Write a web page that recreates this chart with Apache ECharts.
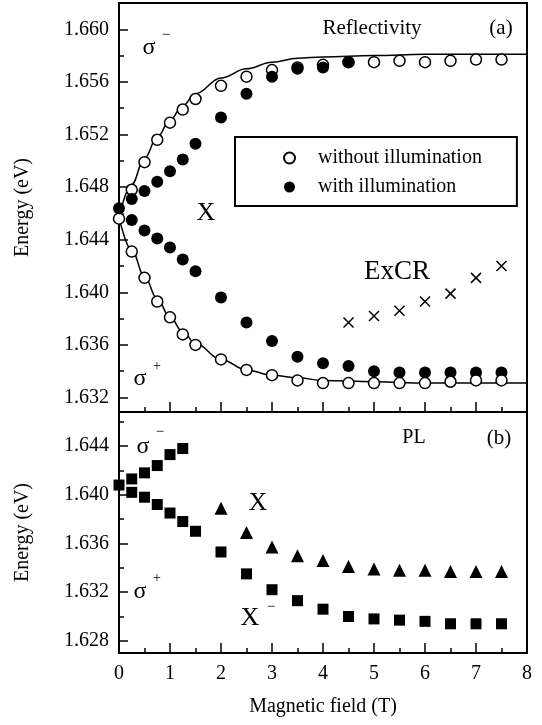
<!DOCTYPE html>
<html>
<head>
<meta charset="utf-8">
<script src="https://cdn.jsdelivr.net/npm/echarts@6/dist/echarts.min.js"></script>
<style>
  html, body { margin: 0; padding: 0; background: #fff; }
  #chart { width: 542px; height: 725px; }
</style>
</head>
<body>
<div id="chart"></div>
<script>
// ---- (a) Reflectivity: magnetic field (T) and energies (eV) ----
const reflWithoutMinusB = [0, 0.25, 0.5, 0.75, 1.0, 1.25, 1.5, 2.0, 2.5, 3.0, 3.5, 4.0, 4.5, 5.0, 5.5, 6.0, 6.5, 7.0, 7.5];
const reflWithoutMinusE = [1.6456, 1.6478, 1.6499, 1.6516, 1.6529, 1.6539, 1.6547, 1.6557, 1.6564, 1.6569, 1.6571, 1.6573, 1.6575, 1.6575, 1.6576, 1.6575, 1.6576, 1.6577, 1.6577];

const reflWithoutPlusB = [0.25, 0.5, 0.75, 1.0, 1.25, 1.5, 2.0, 2.5, 3.0, 3.5, 4.0, 4.5, 5.0, 5.5, 6.0, 6.5, 7.0, 7.5];
const reflWithoutPlusE = [1.6431, 1.6411, 1.6393, 1.6381, 1.6368, 1.6360, 1.6349, 1.6341, 1.6337, 1.6333, 1.6331, 1.6331, 1.6331, 1.6331, 1.6331, 1.6332, 1.6333, 1.6333];

const reflWithMinusB = [0, 0.25, 0.5, 0.75, 1.0, 1.25, 1.5, 2.0, 2.5, 3.0, 3.5, 4.0, 4.5];
const reflWithMinusE = [1.6464, 1.6471, 1.6477, 1.6484, 1.6492, 1.6501, 1.6513, 1.6533, 1.6551, 1.6564, 1.6570, 1.6571, 1.6575];

const reflWithPlusB = [0.25, 0.5, 0.75, 1.0, 1.25, 1.5, 2.0, 2.5, 3.0, 3.5, 4.0, 4.5, 5.0, 5.5, 6.0, 6.5, 7.0, 7.5];
const reflWithPlusE = [1.6455, 1.6447, 1.6441, 1.6434, 1.6425, 1.6416, 1.6396, 1.6377, 1.6363, 1.6351, 1.6346, 1.6344, 1.6340, 1.6339, 1.6339, 1.6339, 1.6339, 1.6339];

const excrB = [4.5, 5.0, 5.5, 6.0, 6.5, 7.0, 7.5];
const excrE = [1.6377, 1.6382, 1.6386, 1.6393, 1.6399, 1.6411, 1.6420];

// fitted Zeeman branches
const fitB = [0, 0.25, 0.5, 0.75, 1.0, 1.25, 1.5, 2.0, 2.5, 3.0, 3.5, 4.0, 5.0, 6.0, 7.0, 8.0];
const fitMinusE = [1.6457, 1.6482, 1.6502, 1.6518, 1.6531, 1.6542, 1.6551, 1.6563, 1.6570, 1.6575, 1.6578, 1.6579, 1.6580, 1.6581, 1.6581, 1.6581];
const fitPlusE = [1.6457, 1.6432, 1.6412, 1.6395, 1.6381, 1.6370, 1.6361, 1.6349, 1.6341, 1.6337, 1.6335, 1.6333, 1.6332, 1.6331, 1.6331, 1.6331];

// ---- (b) PL ----
const plMinusB = [0, 0.25, 0.5, 0.75, 1.0, 1.25];
const plMinusE = [1.6408, 1.6413, 1.6418, 1.6424, 1.6433, 1.6438];

const plTrionB = [0.25, 0.5, 0.75, 1.0, 1.25, 1.5, 2.0, 2.5, 3.0, 3.5, 4.0, 4.5, 5.0, 5.5, 6.0, 6.5, 7.0, 7.5];
const plTrionE = [1.6402, 1.6398, 1.6392, 1.6385, 1.6378, 1.6370, 1.6353, 1.6335, 1.6322, 1.6313, 1.6306, 1.6300, 1.6298, 1.6297, 1.6296, 1.6294, 1.6294, 1.6294];

const plExcitonB = [2.0, 2.5, 3.0, 3.5, 4.0, 4.5, 5.0, 5.5, 6.0, 6.5, 7.0, 7.5];
const plExcitonE = [1.6389, 1.6369, 1.6357, 1.6350, 1.6346, 1.6341, 1.6339, 1.6338, 1.6338, 1.6337, 1.6337, 1.6337];

// ---- axis ticks ----
const topMajor = [1.632, 1.636, 1.640, 1.644, 1.648, 1.652, 1.656, 1.660];
const topMinor = [1.634, 1.638, 1.642, 1.646, 1.650, 1.654, 1.658];
const botMajor = [1.628, 1.632, 1.636, 1.640, 1.644];
const botMinor = [1.630, 1.634, 1.638, 1.642, 1.646];

const legendNames = ['without illumination', 'with illumination'];

const FONT = '"Liberation Serif", "Times New Roman", serif';
const pairs = (xs, ys) => xs.map((x, i) => [x, ys[i]]);

const chart = echarts.init(document.getElementById('chart'), null, { renderer: 'canvas' });

function xAxisOf(gridIndex, showLabels) {
  return {
    type: 'value', gridIndex, min: 0, max: 8, interval: 1, position: 'bottom',
    axisLine: { show: false },
    splitLine: { show: false },
    axisTick: { show: true, inside: true, length: 10, lineStyle: { color: '#000', width: 1.5 } },
    minorTick: { show: true, splitNumber: 2, length: 5, lineStyle: { color: '#000', width: 1.5 } },
    axisLabel: { show: showLabels, color: '#000', fontSize: 20, fontFamily: FONT, margin: 11 },
    name: showLabels ? 'Magnetic field (T)' : '',
    nameLocation: 'middle', nameGap: 44,
    nameTextStyle: { color: '#000', fontSize: 20, fontFamily: FONT }
  };
}

function yAxesOf(gridIndex, min, max, major, minor) {
  return [{
    type: 'value', gridIndex, min, max, position: 'left',
    axisLine: { show: false },
    splitLine: { show: false },
    axisTick: { show: true, inside: true, length: 9, customValues: major, lineStyle: { color: '#000', width: 1.5 } },
    axisLabel: { color: '#000', fontSize: 20, fontFamily: FONT, margin: 10, customValues: major,
                 formatter: v => v.toFixed(3) },
    name: 'Energy (eV)', nameLocation: 'middle', nameGap: 86,
    nameTextStyle: { color: '#000', fontSize: 20, fontFamily: FONT }
  }, {
    type: 'value', gridIndex, min, max, position: 'left', offset: 0,
    axisLine: { show: false },
    splitLine: { show: false },
    axisTick: { show: true, inside: true, length: 5, customValues: minor, lineStyle: { color: '#000', width: 1.5 } },
    axisLabel: { show: false }
  }];
}

const openStyle = { color: '#fff', borderColor: '#000', borderWidth: 1.5, opacity: 1 };
const fillStyle = { color: '#000', opacity: 1 };

function textEl(text, x, y, size) {
  return { type: 'text', x, y, z: 100,
    style: { text, fill: '#000', font: size + 'px ' + FONT, align: 'center', verticalAlign: 'middle' } };
}

chart.setOption({
  animation: false,
  backgroundColor: '#fff',
  grid: [
    { left: 119, top: 3, width: 408, height: 409, show: true, borderColor: '#000', borderWidth: 2, backgroundColor: 'transparent' },
    { left: 119, top: 412, width: 408, height: 241, show: true, borderColor: '#000', borderWidth: 2, backgroundColor: 'transparent' }
  ],
  xAxis: [xAxisOf(0, false), xAxisOf(1, true)],
  yAxis: [
    ...yAxesOf(0, 1.6309, 1.6620, topMajor, topMinor),
    ...yAxesOf(1, 1.6270, 1.6468, botMajor, botMinor)
  ],
  legend: {
    data: legendNames,
    orient: 'vertical', left: 235, top: 137,
    borderColor: '#000', borderWidth: 2, borderRadius: 0,
    padding: [11, 35, 9, 48], itemGap: 9,
    itemWidth: 11, itemHeight: 11,
    selectedMode: false,
    textStyle: { color: '#000', fontSize: 20, fontFamily: FONT, padding: [0, 0, 0, 18] }
  },
  series: [
    { name: 'fit-minus', type: 'line', xAxisIndex: 0, yAxisIndex: 0, data: pairs(fitB, fitMinusE),
      smooth: 0.4, smoothMonotone: 'x', showSymbol: false, symbol: 'none', silent: true,
      lineStyle: { color: '#000', width: 1.5 }, z: 2 },
    { name: 'fit-plus', type: 'line', xAxisIndex: 0, yAxisIndex: 0, data: pairs(fitB, fitPlusE),
      smooth: 0.4, smoothMonotone: 'x', showSymbol: false, symbol: 'none', silent: true,
      lineStyle: { color: '#000', width: 1.5 }, z: 2 },
    { name: 'without illumination', type: 'scatter', xAxisIndex: 0, yAxisIndex: 0,
      data: pairs(reflWithoutMinusB, reflWithoutMinusE), symbol: 'circle', symbolSize: 11, itemStyle: openStyle, z: 3 },
    { name: 'with illumination', type: 'scatter', xAxisIndex: 0, yAxisIndex: 0,
      data: pairs(reflWithMinusB, reflWithMinusE), symbol: 'circle', symbolSize: 12, itemStyle: fillStyle, z: 4 },
    { name: 'with illumination', type: 'scatter', xAxisIndex: 0, yAxisIndex: 0,
      data: pairs(reflWithPlusB, reflWithPlusE), symbol: 'circle', symbolSize: 12, itemStyle: fillStyle, z: 4 },
    { name: 'without illumination', type: 'scatter', xAxisIndex: 0, yAxisIndex: 0,
      data: pairs(reflWithoutPlusB, reflWithoutPlusE), symbol: 'circle', symbolSize: 11, itemStyle: openStyle, z: 5 },
    { name: 'ExCR', type: 'scatter', xAxisIndex: 0, yAxisIndex: 0,
      data: pairs(excrB, excrE), symbol: 'path://M0,0L10,10M10,0L0,10', symbolSize: 10,
      itemStyle: { color: 'none', borderColor: '#000', borderWidth: 1.5, opacity: 1 }, z: 4 },
    { name: 'PL sigma-', type: 'scatter', xAxisIndex: 1, yAxisIndex: 2,
      data: pairs(plMinusB, plMinusE), symbol: 'rect', symbolSize: 11, itemStyle: fillStyle },
    { name: 'PL trion', type: 'scatter', xAxisIndex: 1, yAxisIndex: 2,
      data: pairs(plTrionB, plTrionE), symbol: 'rect', symbolSize: 11, itemStyle: fillStyle },
    { name: 'PL exciton', type: 'scatter', xAxisIndex: 1, yAxisIndex: 2,
      data: pairs(plExcitonB, plExcitonE), symbol: 'triangle', symbolSize: 13, itemStyle: fillStyle }
  ],
  graphic: [
    textEl('Reflectivity', 372, 28, 21),
    textEl('(a)', 501, 28, 21),
    textEl('σ', 149, 48, 24),
    textEl('−', 166, 35, 15),
    textEl('σ', 140, 379, 24),
    textEl('+', 157, 366, 14),
    textEl('X', 206, 213, 26),
    textEl('ExCR', 397, 272, 27),
    textEl('PL', 414, 438, 20),
    textEl('(b)', 499, 438, 21),
    textEl('σ', 143, 447, 24),
    textEl('−', 160, 432, 15),
    textEl('σ', 140, 592, 24),
    textEl('+', 157, 578, 14),
    textEl('X', 258, 503, 26),
    textEl('X', 250, 618, 26),
    textEl('−', 271, 607, 15)
  ]
});
</script>
</body>
</html>
